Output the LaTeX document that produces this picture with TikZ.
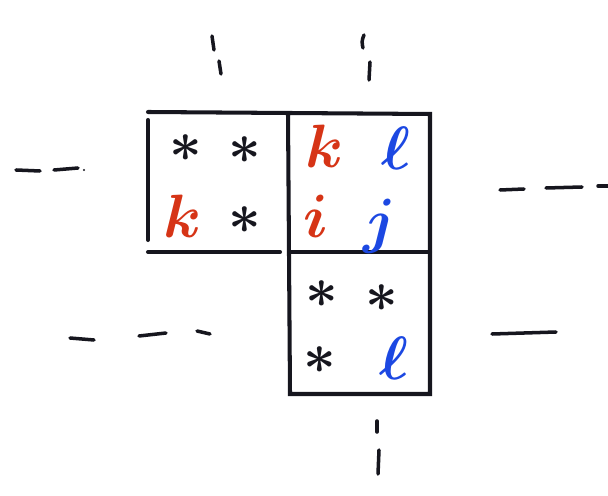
\documentclass[tikz,border=0pt]{standalone}
\usepackage{amsmath,amssymb}
\usepackage{tikz}
\usetikzlibrary{positioning, calc}

\definecolor{penred}{RGB}{214,52,22}
\definecolor{penblue}{RGB}{28,72,226}
\definecolor{penblack}{RGB}{22,22,30}

\begin{document}
\begin{tikzpicture}[x=0.02cm, y=-0.02cm,
      box/.style={draw=penblack, line width=2.3pt, line cap=round},
      stroke/.style={draw=penblack, line width=2pt, line cap=round},
      entry/.style={inner sep=0pt, scale=1.4, font=\fontsize{24}{26}\selectfont},
      star/.style={inner sep=0pt, scale=1.3, text=penblack, font=\fontsize{24}{26}\selectfont},
      rl/.style={entry, text=penred},
      bl/.style={entry, text=penblue}]
    \useasboundingbox (0,0) rectangle (608,496);
    % the three blocks
    \draw[box] (148,112) -- (430,114) -- (430,394) -- (290,394) -- (288,114);
    \draw[box] (148,120) -- (148,240);
    \draw[box] (148,252) -- (280,252);
    \draw[box] (290,252) -- (430,252);
    % left block
    \node[star] (a11) at (186,148) {$\boldsymbol{\ast}$};
    \node[star] (a12) at (245,150) {$\boldsymbol{\ast}$};
    \node[rl] (a21) at (183,216) {$\boldsymbol{k}$};
    \node[star] (a22) at (245,220) {$\boldsymbol{\ast}$};
    % upper right block
    \node[rl] (b11) at (325,146) {$\boldsymbol{k}$};
    \node[bl] (b12) at (396,148) {$\boldsymbol{\ell}$};
    \node[rl] (b21) at (316,216) {$\boldsymbol{i}$};
    \node[bl] (b22) at (380,226) {$\boldsymbol{j}$};
    % lower right block
    \node[star] (c11) at (322,294) {$\boldsymbol{\ast}$};
    \node[star] (c12) at (382,298) {$\boldsymbol{\ast}$};
    \node[star] (c21) at (320,360) {$\boldsymbol{\ast}$};
    \node[bl] (c22) at (394,358) {$\boldsymbol{\ell}$};
    % dashes round the blocks
    \draw[stroke] (212,36) -- (214,50);
    \draw[stroke] (219,61) -- (221,74);
    \draw[stroke] (364,35) to[bend right=20] (363,48);
    \draw[stroke] (370,62) -- (369,80);
    \draw[stroke] (16,170) -- (40,171);
    \draw[stroke] (54,170) -- (78,168);
    \fill[penblack] (84,170) circle (1.2);
    \draw[stroke] (500,190) -- (524,189);
    \draw[stroke] (546,188) -- (582,187);
    \draw[stroke] (598,186) -- (608,186);
    \draw[stroke] (70,338) -- (94,340);
    \draw[stroke] (139,336) -- (166,333);
    \draw[stroke] (197,331) -- (210,334);
    \draw[stroke] (492,334) -- (556,332);
    \draw[stroke] (377,421) -- (377,432);
    \draw[stroke] (379,450) -- (378,474);
\end{tikzpicture}
\end{document}
